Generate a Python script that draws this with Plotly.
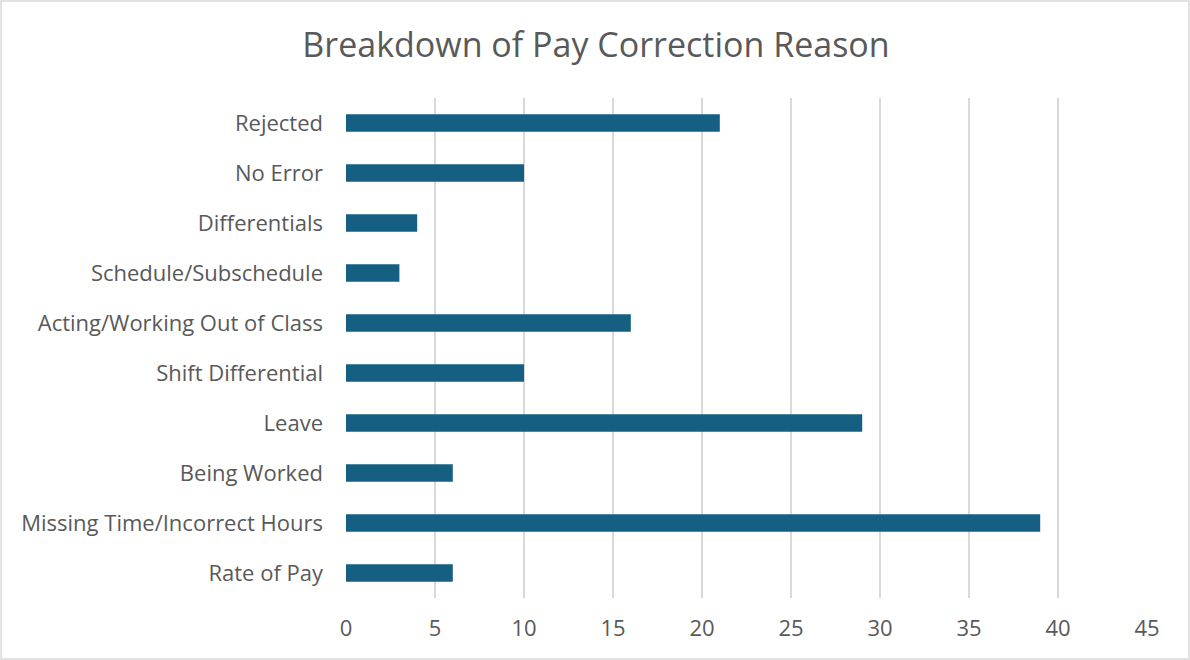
import plotly.graph_objects as go

# Pay correction reasons, listed bottom to top as drawn on the category axis
reasons = [
    "Rate of Pay",
    "Missing Time/Incorrect Hours",
    "Being Worked",
    "Leave",
    "Shift Differential",
    "Acting/Working Out of Class",
    "Schedule/Subschedule",
    "Differentials",
    "No Error",
    "Rejected",
]
counts = [6, 39, 6, 29, 10, 16, 3, 4, 10, 21]
x_ticks = [0, 5, 10, 15, 20, 25, 30, 35, 40, 45]

W, H = 1190, 660
ML, MR, MT, MB = 346, 43, 98, 62
pw, ph = W - ML - MR, H - MT - MB

text_color = "#595959"
grid_color = "#d9d9d9"
font_family = "Open Sans, Lato, sans-serif"

fig = go.Figure(
    go.Bar(
        x=counts,
        y=reasons,
        orientation="h",
        marker=dict(color="#156082", line=dict(width=0)),
        hoverinfo="x+y",
    )
)

# outer chart border
fig.add_shape(
    type="rect",
    xref="paper", yref="paper",
    x0=(1 - ML) / pw, x1=(W - 1 - ML) / pw,
    y0=-(H - 1 - MT - ph) / ph, y1=1 + (MT - 1) / ph,
    line=dict(color=grid_color, width=1.5),
    fillcolor="rgba(0,0,0,0)",
    layer="below",
)

fig.update_layout(
    width=W,
    height=H,
    margin=dict(l=ML, r=MR, t=MT, b=MB),
    paper_bgcolor="white",
    plot_bgcolor="white",
    bargap=0.65,
    showlegend=False,
    title=dict(
        text="Breakdown of Pay Correction Reason",
        x=596 / W, xref="container", xanchor="center",
        y=1 - 45 / H, yref="container", yanchor="middle",
        font=dict(family=font_family, size=34, color=text_color),
    ),
    font=dict(family=font_family, size=22, color=text_color),
)

fig.update_xaxes(
    range=[0, 45],
    tickvals=x_ticks,
    ticktext=[str(t) for t in x_ticks],
    showgrid=True,
    gridcolor=grid_color,
    gridwidth=1.5,
    zeroline=False,
    showline=False,
    ticks="",
    ticklabelstandoff=15,
    tickfont=dict(size=22, color=text_color),
    fixedrange=True,
)

fig.update_yaxes(
    categoryorder="array",
    categoryarray=reasons,
    showgrid=False,
    zeroline=False,
    showline=False,
    ticks="",
    ticklabelstandoff=22,
    tickfont=dict(size=22, color=text_color),
    fixedrange=True,
)

fig.write_html("out.html")
